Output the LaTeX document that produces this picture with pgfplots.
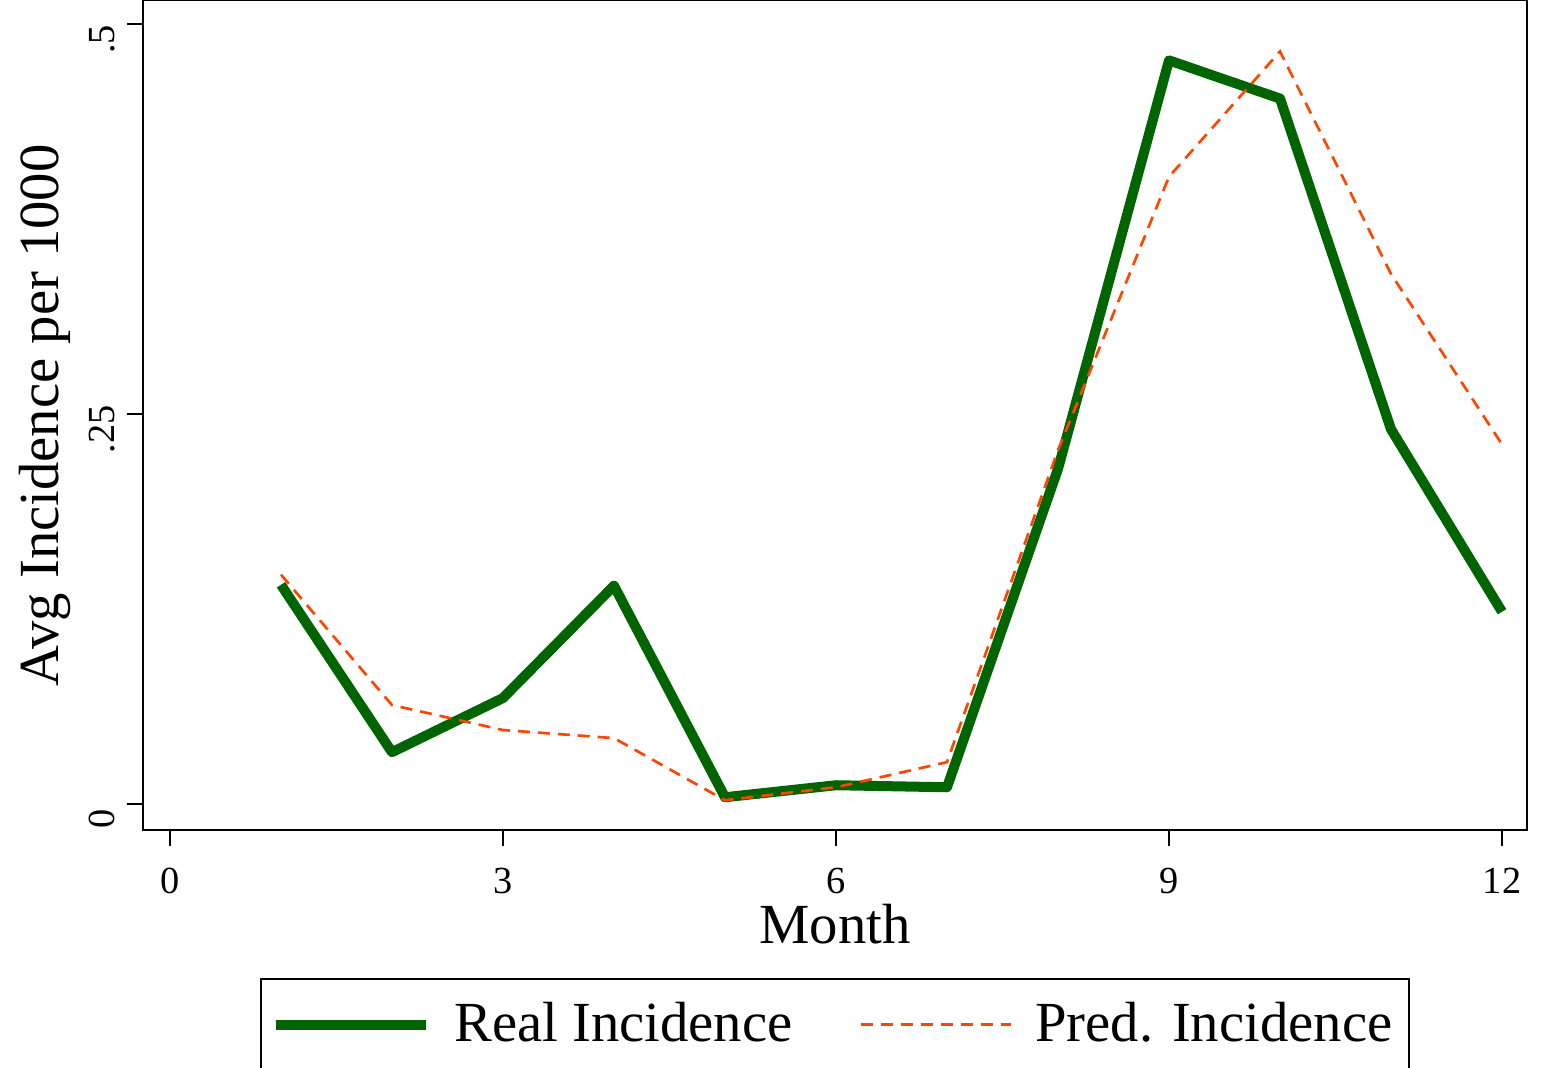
\documentclass[border=0pt]{standalone}
\usepackage{fontspec}
\setmainfont{Liberation Serif}
\usepackage{pgfplots}
\pgfplotsset{compat=1.18}
\definecolor{dkgreen}{RGB}{0,100,0}
\definecolor{orred}{RGB}{255,69,0}
\begin{document}
\begin{tikzpicture}
\begin{axis}[
  scale only axis,
  width=415.2pt, height=249pt,
  xmin=-0.243, xmax=12.225,
  ymin=-0.0167, ymax=0.5154,
  xtick={0,3,6,9,12}, xticklabels={0,3,6,9,12},
  ytick={0,0.25,0.5}, yticklabels={0,.25,.5},
  xtick pos=bottom, ytick pos=left,
  tick align=outside,
  major tick length=4.8pt,
  axis line style={line width=0.6pt},
  every tick/.style={black, line width=0.6pt},
  ticklabel style={font=\fontsize{11.5}{13}\selectfont},
  xticklabel style={yshift=-3pt},
  yticklabel style={rotate=90, anchor=south, xshift=-4.5pt},
  xlabel={Month},
  ylabel={Avg Incidence per 1000},
  label style={font=\fontsize{17}{20}\selectfont},
  xlabel style={at={(axis description cs:0.5,-0.113)}, anchor=center},
  ylabel style={at={(axis description cs:-0.071,0.5)}, anchor=center},
  legend columns=2,
  legend style={at={(axis description cs:0.5,-0.178)}, anchor=north,
    draw=black, line width=0.6pt, font=\fontsize{17}{20}\selectfont,
    inner xsep=3pt, inner ysep=5pt,
    /tikz/every even column/.append style={column sep=18pt}},
  legend cell align=left,
  legend image code/.code={\draw[#1] (0pt,0pt) -- (45pt,0pt); \path (50pt,0pt);},
]
\addplot[dkgreen, line width=3pt, line join=round] coordinates {
(1,0.1407) (2,0.0334) (3,0.0681) (4,0.1401) (5,0.0045) (6,0.0122)
(7,0.0109) (8,0.215) (9,0.4769) (10,0.4524) (11,0.2404) (12,0.1234)};
\addlegendentry{Real Incidence}
\addplot[orred, line width=0.8pt, dash pattern=on 3.6pt off 2.4pt] coordinates {
(1,0.1472) (2,0.0636) (3,0.0476) (4,0.0424) (5,0.0026) (6,0.0109)
(7,0.0270) (8,0.227) (9,0.4023) (10,0.4826) (11,0.340) (12,0.2307)};
\addlegendentry{Pred. Incidence}
\end{axis}
\pgfresetboundingbox
\useasboundingbox (-42.9pt,-71.1pt) rectangle (421.2pt,249.1pt);
\end{tikzpicture}
\end{document}
